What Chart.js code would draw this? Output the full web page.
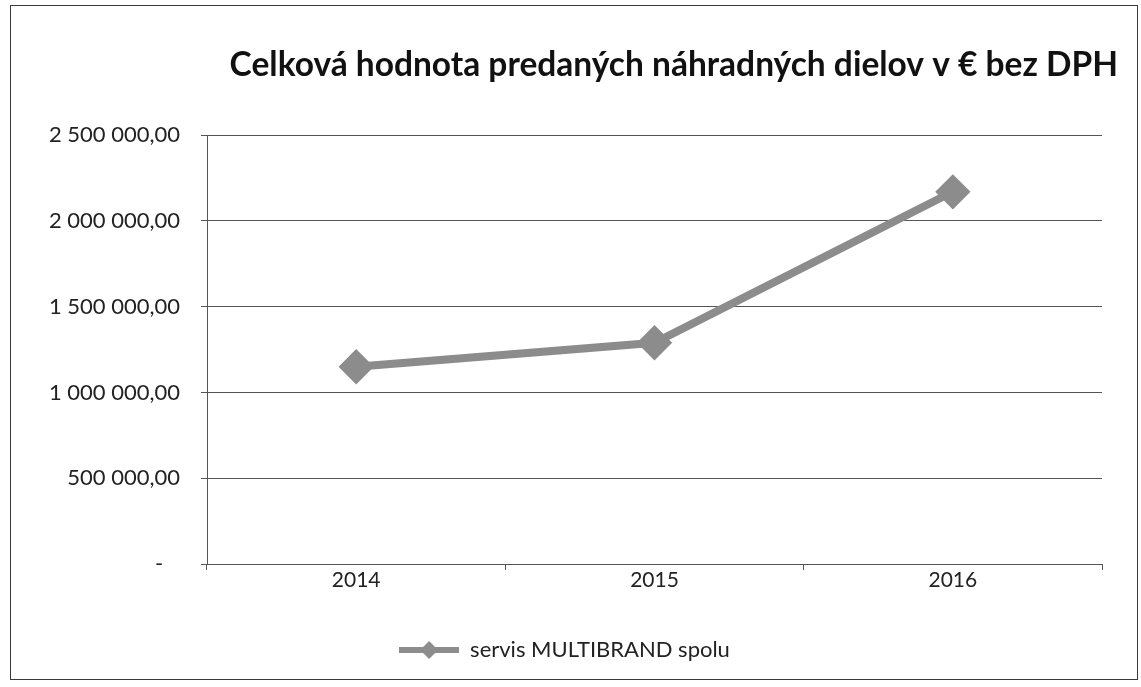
<!DOCTYPE html>
<html>
<head>
<meta charset="utf-8">
<script src="https://cdn.jsdelivr.net/npm/chart.js@4"></script>
<style>
  html, body { margin: 0; padding: 0; background: #fff; }
  #frame { position: absolute; left: 10px; top: 5px; width: 1126px; height: 673px; border: 1px solid #3a3a3a; }
</style>
</head>
<body>
<div id="frame"><canvas id="partsChart" width="1126" height="673"></canvas></div>
<script>
const years = ['2014', '2015', '2016'];
const partsValue = [1150000, 1290000, 2170000];
const seriesName = 'servis MULTIBRAND spolu';
const chartTitle = 'Celková hodnota predaných náhradných dielov v € bez DPH';

const lineColor = '#8c8c8c';
const fontFamily = 'Lato, "Open Sans", sans-serif';

function formatValue(v) {
    if (v === 0) return '-   ';
    return String(v).replace(/\B(?=(\d{3})+(?!\d))/g, ' ') + ',00';
}

// small line + diamond icon for the legend
const legendIcon = document.createElement('canvas');
legendIcon.width = 60;
legendIcon.height = 22;
(function() {
    const c = legendIcon.getContext('2d');
    c.strokeStyle = lineColor;
    c.lineWidth = 6;
    c.beginPath();
    c.moveTo(0, 11);
    c.lineTo(60, 11);
    c.stroke();
    c.fillStyle = lineColor;
    c.beginPath();
    c.moveTo(30, 2);
    c.lineTo(39, 11);
    c.lineTo(30, 20);
    c.lineTo(21, 11);
    c.closePath();
    c.fill();
})();

const ctx = document.getElementById('partsChart').getContext('2d');
new Chart(ctx, {
    type: 'line',
    data: {
        labels: years,
        datasets: [{
            label: seriesName,
            data: partsValue,
            borderColor: lineColor,
            backgroundColor: lineColor,
            borderWidth: 8,
            pointStyle: 'rectRot',
            pointRadius: 12,
            pointHoverRadius: 12,
            tension: 0
        }]
    },
    options: {
        responsive: false,
        animation: false,
        layout: { padding: { left: 0, right: 19, top: 0, bottom: 8 } },
        plugins: {
            title: {
                display: true,
                text: chartTitle,
                align: 'end',
                color: '#111',
                font: { family: fontFamily, size: 33.5, weight: 'bold' },
                padding: { top: 39, bottom: 50 }
            },
            legend: {
                position: 'bottom',
                labels: {
                    color: '#222',
                    font: { family: fontFamily, size: 22 },
                    usePointStyle: true,
                    pointStyleWidth: 60,
                    padding: 10,
                    generateLabels: chart => [{
                        text: seriesName,
                        pointStyle: legendIcon,
                        fontColor: '#222',
                        lineWidth: 0,
                        datasetIndex: 0
                    }]
                }
            },
            tooltip: { enabled: false }
        },
        scales: {
            x: {
                offset: true,
                grid: { offset: true, drawOnChartArea: false, tickLength: 6, color: '#555' },
                border: { color: '#555' },
                ticks: { color: '#222', font: { family: fontFamily, size: 21 }, padding: -2 },
                afterFit: s => { s.height = 65; }
            },
            y: {
                min: 0,
                max: 2500000,
                ticks: { stepSize: 500000, color: '#222', font: { family: fontFamily, size: 22 }, padding: 21, callback: v => formatValue(v) },
                grid: { color: '#555', tickLength: 6 },
                border: { color: '#555' },
                afterFit: s => { s.width = 196; }
            },
            yRight: {
                position: 'right',
                display: true,
                ticks: { display: false },
                grid: { display: false },
                border: { display: false },
                afterFit: s => { s.width = 16; }
            }
        }
    }
});
</script>
</body>
</html>
